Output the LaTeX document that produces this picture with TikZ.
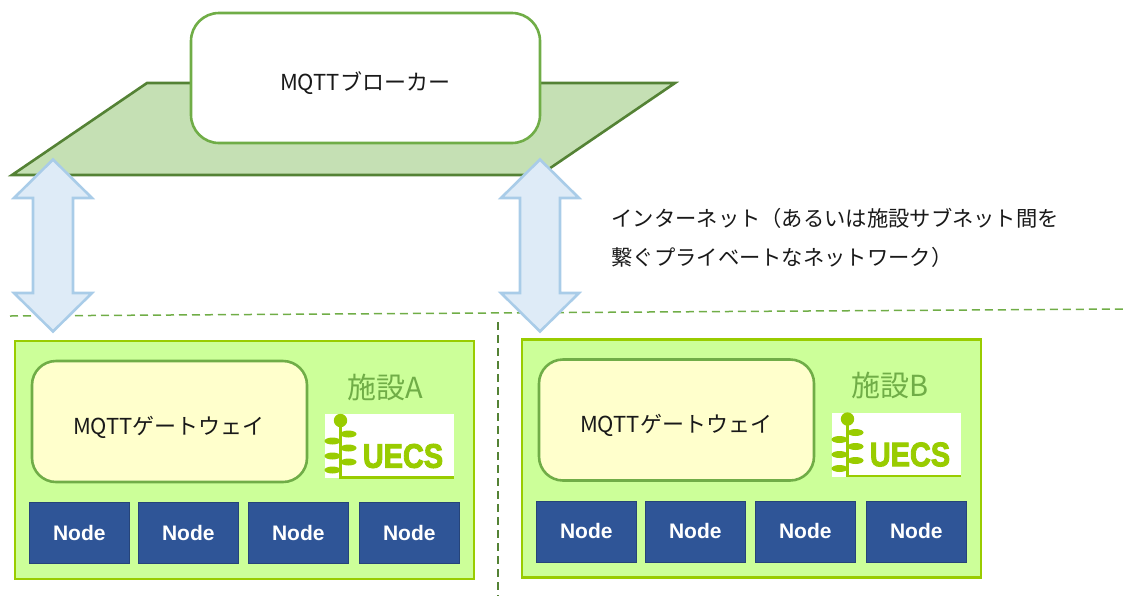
\documentclass[tikz,border=0pt]{standalone}
\usepackage{fontspec}
\setmainfont{Noto Sans CJK JP}
\newfontfamily\logofont[BoldFeatures={FakeBold=3}]{Liberation Sans}
\newfontfamily\nodefont{Liberation Sans}
\usepackage{color}
\definecolor{framegreen}{HTML}{70AD47}
\definecolor{darkgreen}{HTML}{548235}
\definecolor{planegreen}{HTML}{C5E0B4}
\definecolor{sitefill}{HTML}{CCFF99}
\definecolor{sitedraw}{HTML}{99CC00}
\definecolor{gatefill}{HTML}{FFFFCC}
\definecolor{nodeblue}{HTML}{2F5597}
\definecolor{arrowfill}{HTML}{DEEBF7}
\definecolor{arrowdraw}{HTML}{A9CCE8}
\definecolor{logogreen}{HTML}{99CC00}
\tikzset{
    jptext/.style={font=\fontsize{22}{26}\selectfont, text=black!90},
    notetext/.style={font=\fontsize{21.3}{26}\selectfont, text=black!90, anchor=west},
    sitebox/.style={draw=sitedraw, fill=sitefill, line width=2.6pt},
    gatebox/.style={draw=framegreen, fill=gatefill, line width=2.6pt, rounded corners=24pt},
    nodebox/.style={draw=nodeblue!80!black, fill=nodeblue, line width=0.6pt, anchor=north west,
        minimum width=100pt, minimum height=61pt, inner sep=0pt, text=white,
        font=\nodefont\fontsize{21}{26}\selectfont\bfseries},
    leaf/.style={fill=logogreen, draw=none},
}
\newcommand{\drawdoublearrow}[1]{
    % Block arrow, tip to tip, around the x position
    \draw[draw=arrowdraw, fill=arrowfill, line width=2.6pt, line join=miter]
        (#1,159.5) -- (#1+39,198) -- (#1+20,198) -- (#1+20,293) -- (#1+39,293) -- (#1,331.5)
        -- (#1-39,293) -- (#1-20,293) -- (#1-20,198) -- (#1-39,198) -- cycle;
}
\newcommand{\drawsite}[4]{
    % Box of one site, drawn at the coordinates of site A
    \begin{scope}[shift={(#1,#2)}]
        \draw[sitebox] (15,341) rectangle (474,579);
        \draw[gatebox] (32,361) rectangle (307,482);
        \node[jptext] (gate#3) at (169,427) {MQTTゲートウェイ};
        \node[text=framegreen, font=\fontsize{29}{32}\selectfont] (label#3) at (#4,387) {施設#3};
        \node[nodebox] (node#31) at (29,502) {Node};
        \node[nodebox] (node#32) at (138,502) {Node};
        \node[nodebox] (node#33) at (248,502) {Node};
        \node[nodebox] (node#34) at (359,502) {Node};

        % Logo
        \fill[white] (325,414) rectangle (454,478);
        \fill[logogreen] (339,420) rectangle (341.5,478);
        \fill[logogreen] (339,476) rectangle (454,478.5);
        \fill[logogreen] (340.5,420.5) circle (6.7);
        \foreach \y in {441,456,470}
        \fill[leaf] (332.5,\y) ellipse (8 and 3.5);
        \foreach \y in {434,448,462}
        \fill[leaf] (348.5,\y) ellipse (8 and 3.5);
        \node[text=logogreen, inner sep=0pt, font=\logofont\fontsize{34}{34}\selectfont\bfseries]
            (logo#3) at (403,456) {\scalebox{.85}[1]{UECS}};
    \end{scope}
}

\begin{document}
\begin{tikzpicture}[x=1pt, y=-1pt]
    \useasboundingbox (0,0) rectangle (1126,598);

    % Internet plane and broker
    \draw[fill=planegreen, draw=darkgreen, line width=2.6pt] (12,175) -- (147,83) -- (675,83) -- (540,175) -- cycle;
    \draw[draw=framegreen, fill=white, line width=2.6pt, rounded corners=28pt] (191,13) rectangle (540,143);
    \node[jptext] (broker) at (365,83) {MQTTブローカー};

    % Dashed separators
    \draw[framegreen, line width=1.5pt, dash pattern=on 8pt off 5pt] (10,316) -- (1126,309);
    \draw[darkgreen, line width=1.5pt, dash pattern=on 8pt off 5pt] (498,322) -- (498,596);

    \drawdoublearrow{53}
    \drawdoublearrow{540}

    % Note
    \node[notetext] (note1) at (608,218) {インターネット（あるいは施設サブネット間を};
    \node[notetext] (note2) at (608,257) {繋ぐプライベートなネットワーク）};

    \drawsite{0}{0}{A}{385}
    \drawsite{507}{-1.5}{B}{383}
\end{tikzpicture}
\end{document}
